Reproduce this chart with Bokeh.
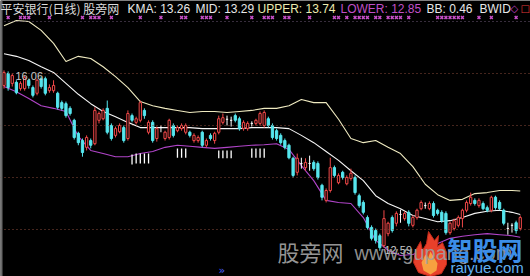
import numpy as np
from bokeh.plotting import figure
from bokeh.models import Span, Label, Range1d
from bokeh.core.properties import value
from bokeh.embed import file_html
from bokeh.resources import INLINE

# ---- daily OHLC, 平安银行 ----
opens = [15.77, 16.00, 15.81, 15.83, 15.71, 15.71, 15.87, 15.73, 15.62, 15.90,
         15.90, 15.67, 15.67, 15.62, 15.44, 15.42, 15.33, 15.10, 14.85, 14.71,
         14.58, 14.71, 14.65, 15.10, 15.13, 15.33, 15.00, 14.81, 14.88, 14.96,
         14.75, 15.19, 15.06, 15.10, 15.29, 14.87, 15.06, 14.75, 14.96, 14.75,
         14.77, 15.00, 14.90, 14.94, 14.87, 14.87, 14.71, 14.71, 14.87, 14.62,
         14.81, 14.71, 14.87, 15.06, 15.12, 15.10, 15.19, 15.13, 14.94, 14.94,
         15.04, 15.04, 15.04, 15.00, 15.13, 15.00, 14.90, 14.81, 14.71, 14.62,
         14.37, 14.10, 14.27, 14.19, 14.27, 14.29, 14.27, 13.85, 13.56, 13.75,
         14.19, 13.90, 14.10, 13.88, 13.98, 14.00, 13.65, 13.52, 13.23, 13.04,
         12.98, 12.88, 12.69, 12.92, 13.23, 13.12, 13.29, 13.21, 13.33, 13.08,
         13.23, 13.40, 13.46, 13.40, 13.50, 13.37, 13.33, 13.31, 12.94, 13.02,
         13.08, 13.21, 13.37, 13.50, 13.56, 13.46, 13.50, 13.42, 13.37, 13.62,
         13.52, 13.37, 13.02, 13.08, 13.13, 13.02]
highs = [16.06, 16.04, 16.00, 15.87, 15.85, 15.96, 15.90, 15.77, 15.90, 15.94,
         15.94, 15.79, 15.87, 15.65, 15.48, 15.46, 15.37, 15.13, 14.88, 14.75,
         14.81, 14.75, 15.35, 15.27, 15.33, 15.48, 15.04, 14.98, 15.04, 15.00,
         15.29, 15.23, 15.17, 15.48, 15.33, 15.10, 15.10, 14.98, 15.00, 14.90,
         15.13, 15.04, 15.00, 15.04, 15.04, 14.90, 14.85, 14.81, 14.90, 14.75,
         14.85, 14.88, 15.19, 15.23, 15.19, 15.17, 15.23, 15.17, 15.10, 15.08,
         15.08, 15.13, 15.27, 15.29, 15.17, 15.04, 14.94, 14.85, 14.75, 14.65,
         14.40, 14.46, 14.38, 14.37, 14.42, 14.33, 14.31, 13.88, 13.79, 14.38,
         14.23, 14.08, 14.13, 14.04, 14.17, 14.04, 13.69, 13.56, 13.27, 13.08,
         13.02, 12.92, 13.37, 13.15, 13.27, 13.35, 13.38, 13.35, 13.37, 13.27,
         13.40, 13.56, 13.52, 13.54, 13.54, 13.40, 13.37, 13.35, 13.15, 13.21,
         13.27, 13.40, 13.56, 13.71, 13.60, 13.60, 13.54, 13.46, 13.65, 13.65,
         13.56, 13.40, 13.13, 13.12, 13.17, 13.27]
lows = [15.71, 15.67, 15.75, 15.60, 15.67, 15.67, 15.71, 15.54, 15.58, 15.71,
        15.58, 15.63, 15.63, 15.31, 15.29, 15.15, 15.19, 14.73, 14.62, 14.40,
        14.52, 14.56, 14.62, 15.04, 15.10, 14.83, 14.71, 14.77, 14.85, 14.67,
        14.71, 15.06, 15.02, 15.06, 15.13, 14.83, 14.67, 14.69, 14.87, 14.71,
        14.73, 14.77, 14.87, 14.90, 14.83, 14.77, 14.67, 14.67, 14.58, 14.58,
        14.71, 14.65, 14.83, 15.02, 15.00, 14.98, 15.06, 14.90, 14.90, 14.90,
        14.98, 15.00, 15.00, 14.96, 14.96, 14.73, 14.71, 14.63, 14.54, 14.35,
        14.00, 14.04, 14.17, 14.13, 14.13, 14.13, 13.96, 13.56, 13.52, 13.71,
        14.00, 13.87, 13.96, 13.85, 13.94, 13.67, 13.42, 13.29, 13.00, 12.79,
        12.73, 12.59, 12.65, 12.87, 12.94, 13.06, 13.13, 13.17, 13.06, 13.04,
        13.19, 13.37, 13.40, 13.37, 13.23, 13.27, 13.13, 12.90, 12.90, 12.98,
        13.04, 13.04, 13.33, 13.46, 13.46, 13.42, 13.37, 13.33, 13.33, 13.38,
        13.37, 13.08, 12.90, 12.94, 12.92, 12.98]
closes = [16.02, 15.73, 15.96, 15.63, 15.81, 15.92, 15.77, 15.58, 15.87, 15.75,
          15.62, 15.73, 15.77, 15.35, 15.33, 15.19, 15.23, 14.77, 14.67, 14.48,
          14.77, 14.62, 15.29, 15.23, 15.29, 14.87, 14.75, 14.94, 15.00, 14.71,
          15.23, 15.10, 15.13, 15.44, 15.19, 15.06, 14.71, 14.94, 14.96, 14.87,
          15.10, 14.81, 14.96, 15.00, 15.00, 14.81, 14.81, 14.77, 14.62, 14.71,
          14.75, 14.85, 15.13, 15.15, 15.12, 15.10, 15.10, 14.94, 15.06, 15.04,
          15.04, 15.10, 15.23, 15.25, 15.00, 14.77, 14.75, 14.67, 14.58, 14.38,
          14.04, 14.37, 14.27, 14.29, 14.27, 14.17, 14.00, 13.62, 13.75, 14.19,
          14.04, 14.04, 14.00, 14.00, 14.08, 13.71, 13.46, 13.33, 13.04, 12.83,
          12.79, 12.65, 13.21, 13.12, 12.98, 13.31, 13.29, 13.31, 13.12, 13.23,
          13.37, 13.52, 13.46, 13.50, 13.27, 13.31, 13.17, 12.94, 13.12, 13.17,
          13.23, 13.37, 13.52, 13.62, 13.50, 13.56, 13.40, 13.37, 13.62, 13.42,
          13.40, 13.12, 13.02, 13.08, 12.98, 13.23]

# ---- band lines (sampled bars) ----
band_idx = [0, 3, 6, 9, 12, 15, 18, 21, 24, 27, 30, 33, 36, 39, 42, 45, 48, 51, 54, 57,
            60, 63, 66, 69, 72, 75, 78, 81, 84, 87, 90, 93, 96, 99, 102, 105, 108, 111,
            114, 117, 120, 123, 125]
upper = [16.92, 17.02, 17.00, 16.83, 16.58, 16.23, 16.33, 16.29, 16.13, 15.94,
         15.73, 15.46, 15.38, 15.33, 15.29, 15.25, 15.27, 15.27, 15.25, 15.27,
         15.29, 15.33, 15.33, 15.38, 15.50, 15.44, 15.44, 15.12, 14.75, 14.67,
         14.71, 14.58, 14.46, 14.21, 13.87, 13.67, 13.56, 13.58, 13.69, 13.71,
         13.75, 13.75, 13.74]
mid = [16.38, 16.33, 16.25, 16.13, 16.02, 15.81, 15.60, 15.42, 15.27, 15.17,
       15.06, 14.96, 14.96, 14.96, 14.96, 14.96, 14.94, 14.94, 14.94, 14.94,
       14.96, 14.96, 14.96, 14.94, 14.81, 14.67, 14.50, 14.33, 14.13, 13.94,
       13.65, 13.50, 13.40, 13.27, 13.21, 13.15, 13.17, 13.23, 13.31, 13.35,
       13.37, 13.33, 13.29]
lower = [15.75, 15.65, 15.52, 15.38, 15.33, 15.27, 14.79, 14.52, 14.46, 14.40,
         14.40, 14.46, 14.50, 14.58, 14.62, 14.60, 14.58, 14.56, 14.58, 14.60,
         14.62, 14.63, 14.65, 14.54, 14.23, 13.94, 13.56, 13.52, 13.50, 13.23,
         12.79, 12.60, 12.50, 12.52, 12.62, 12.73, 12.83, 12.87, 12.90, 12.92,
         12.90, 12.88, 12.85]

# ---- signal bars under the lower band ----
sig_idx = [31, 32, 33, 34, 35, 42, 43, 44, 52, 53, 54, 55, 60, 61, 62, 63]
sig_top = [14.44, 14.46, 14.46, 14.46, 14.46, 14.56, 14.56, 14.56,
           14.52, 14.52, 14.52, 14.52, 14.56, 14.56, 14.56, 14.56]
sig_bot = [14.25, 14.27, 14.27, 14.27, 14.27, 14.38, 14.38, 14.38,
           14.37, 14.37, 14.37, 14.37, 14.38, 14.38, 14.38, 14.38]

# ---- indicator crosses along the top strip ----
mark_idx = [1, 4, 5, 6, 11, 19, 21, 22, 23, 26, 33, 38, 43, 44, 48, 49, 50, 54, 60,
            63, 64, 65, 68, 69, 74, 80, 81, 83, 85, 86, 87, 88, 90, 91, 93, 94, 95,
            96, 98, 105, 106, 107, 108, 109, 110, 111, 115, 118, 124]

grid_levels = [13.0, 14.0, 15.0, 16.0]
top_level = 17.0

title_parts = [("平安银行(日线) 股旁网", "#dcdcdc"),
               ("KMA: 13.26", "#e8e8e8"),
               ("MID: 13.29", "#e8e8e8"),
               ("UPPER: 13.74", "#ececb0"),
               ("LOWER: 12.85", "#c050c8"),
               ("BB: 0.46", "#e8e8e8"),
               ("BWID", "#e8e8e8")]
title_x = [0, 127, 195, 257, 340, 426, 479]

# ---- pixel geometry ----
W, H = 530, 276
STEP = 4.13          # pixels per bar
X0 = 3.5             # pixel column of bar 0
PX_PER_UNIT = 52.0   # pixels per 1.00 of price
P_REF, Y_REF = 13.0, 229.0


def px_x(px):
    return (px - X0) / STEP


def px_y(py):
    return P_REF + (Y_REF - py) / PX_PER_UNIT


RED = "#f04848"
CYAN = "#56e6ee"

p = figure(width=W, height=H, output_backend="svg", toolbar_location=None,
           x_range=Range1d(px_x(0), px_x(W)), y_range=Range1d(px_y(H), px_y(0)),
           x_axis_type=None, y_axis_type=None, min_border=0,
           background_fill_color="black", border_fill_color="black",
           outline_line_color=None)
p.grid.visible = False

# dotted price grid
for lvl in grid_levels:
    p.add_layout(Span(location=lvl, dimension="width", line_color="#8a4a3a",
                      line_dash="1 3", line_width=1))
p.add_layout(Span(location=top_level, dimension="width", line_color="#6e5a78",
                  line_dash="1 3", line_width=1))

# left frame edge
p.add_layout(Span(location=px_x(1), dimension="height", line_color="#6a6a6a", line_width=2))

# band lines
p.line(band_idx, upper, line_color="#efeac0", line_width=1.1)
p.line(band_idx, mid, line_color="#f6f6f6", line_width=1.1)
p.line(band_idx, lower, line_color="#b044c8", line_width=1.1)

# candles
o = np.array(opens); h = np.array(highs); l = np.array(lows); c = np.array(closes)
idx = np.arange(len(o))
up = c > o + 1e-9
dn = c < o - 1e-9
fl = ~(up | dn)
BW = 0.55

p.segment(idx[up], l[up], idx[up], h[up], line_color=RED, line_width=1)
p.vbar(x=idx[up], width=BW, top=c[up], bottom=o[up], fill_color="black", line_color=RED, line_width=1)
p.segment(idx[dn], l[dn], idx[dn], h[dn], line_color=CYAN, line_width=1)
p.vbar(x=idx[dn], width=BW, top=o[dn], bottom=c[dn], fill_color=CYAN, line_color=CYAN, line_width=1)
p.segment(idx[fl], l[fl], idx[fl], h[fl], line_color="white", line_width=1)
p.segment(idx[fl] - BW / 2, o[fl], idx[fl] + BW / 2, o[fl], line_color="white", line_width=1)

# signal bars
p.segment(sig_idx, sig_top, sig_idx, sig_bot, line_color="white", line_width=1.3)

# top strip crosses
p.scatter(mark_idx, [px_y(17)] * len(mark_idx), marker="x", size=4,
          line_color="#c850c8", line_width=1.5)

# title row
for (txt, col), x in zip(title_parts, title_x):
    cjk = any(ord(ch) > 0x2000 for ch in txt)
    p.add_layout(Label(x=x, y=H - 8, x_units="screen", y_units="screen", text=txt,
                       text_color=col, text_font_size="12px",
                       text_font="Noto Sans CJK SC" if cjk else "Liberation Sans",
                       text_baseline="middle"))
p.add_layout(Label(x=510, y=H - 8, x_units="screen", y_units="screen", text="◇",
                   text_color="#c040c0", text_font_size="10px", text_font="DejaVu Sans",
                   text_baseline="middle"))
p.add_layout(Label(x=520, y=H - 8, x_units="screen", y_units="screen", text="□",
                   text_color="#e03838", text_font_size="10px", text_font="DejaVu Sans",
                   text_baseline="middle"))

# extreme price labels
hi_i = int(np.argmax(h)); lo_i = int(np.argmin(l))
p.add_layout(Label(x=px_x(15), y=h[hi_i] - 0.04, text=f"{h[hi_i]:.2f}", text_color="#c8c8c8",
                   text_font_size="11px", text_font="Liberation Sans", text_baseline="top"))
p.add_layout(Label(x=px_x(384), y=l[lo_i] + 0.02, text=f"{l[lo_i]:.2f}", text_color="#c8c8c8",
                   text_font_size="11px", text_font="Liberation Sans", text_baseline="middle"))

# site watermarks
p.add_layout(Label(x=277, y=26, x_units="screen", y_units="screen", text="股旁网",
                   text_color="#a8a8a8", text_alpha=0.9, text_font_size="22px",
                   text_font="Noto Sans CJK SC", text_baseline="middle"))
p.add_layout(Label(x=354, y=24, x_units="screen", y_units="screen", text="www.gupang.com",
                   text_color="#a0a0a0", text_alpha=0.9, text_font_size="20px",
                   text_font="Liberation Sans", text_baseline="middle"))
p.add_layout(Label(x=218, y=6, x_units="screen", y_units="screen", text="»",
                   text_color="#4a60ff", text_font_size="11px", text_font="DejaVu Sans",
                   text_baseline="middle"))

# flame logo
flame_outer = [(430, 276), (418, 272), (413, 262), (415, 250), (420, 241), (422, 250),
               (426, 243), (428, 231), (434, 240), (438, 235), (437, 246), (442, 242),
               (446, 252), (446, 264), (441, 273)]
flame_inner = [(430, 274), (423, 270), (421, 262), (425, 254), (427, 259), (430, 251),
               (434, 258), (437, 263), (436, 270)]
p.patch([px_x(a) for a, b in flame_outer], [px_y(b) for a, b in flame_outer],
        fill_color="#e8402a", line_color="#c02a1a")
p.patch([px_x(a) for a, b in flame_inner], [px_y(b) for a, b in flame_inner],
        fill_color="#f7a040", line_color=None)

p.add_layout(Label(x=447, y=28, x_units="screen", y_units="screen", text="智股网",
                   text_color="#3b8ee8", text_font_size="25px", text_font_style="bold",
                   text_font="Noto Sans CJK SC", text_baseline="middle"))
p.add_layout(Label(x=450, y=9, x_units="screen", y_units="screen", text="raiyue.com",
                   text_color="#62b2f2", text_font_size="15px",
                   text_font="Liberation Sans", text_baseline="middle"))

open("out.html", "w").write(file_html(p, INLINE))
